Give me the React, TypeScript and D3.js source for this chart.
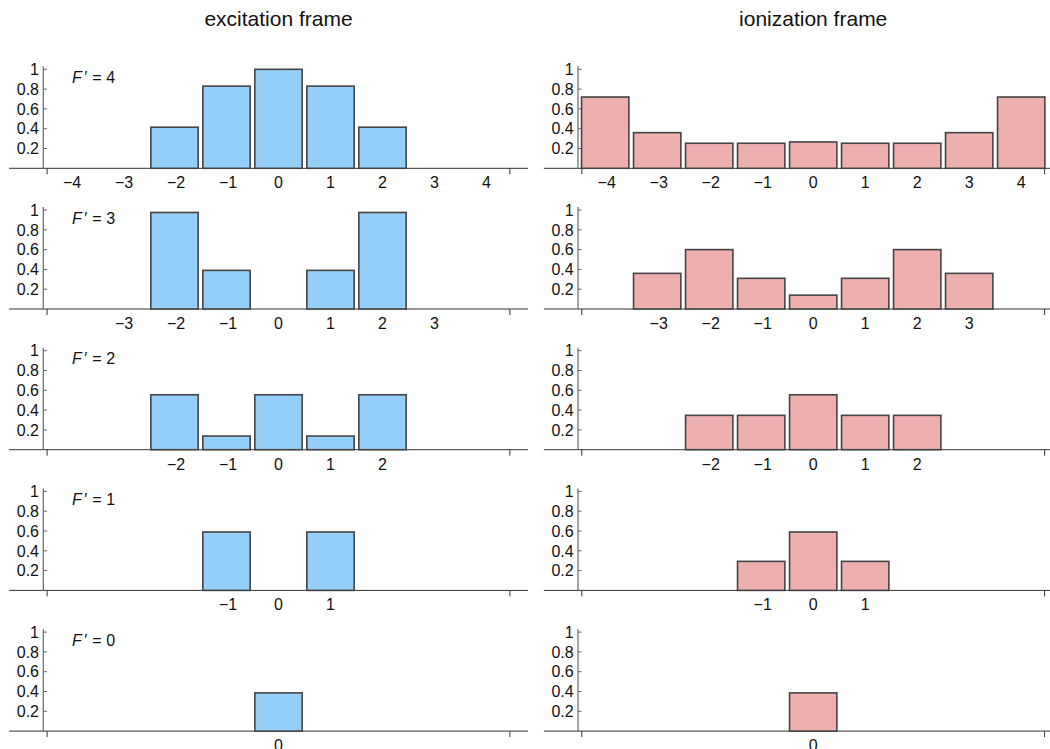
import React from "react";
import * as d3 from "d3";

// ---- data ----
const rowLabels = ["4", "3", "2", "1", "0"];
const panelTitles = ["excitation frame", "ionization frame"];

const mRow4 = [-2, -1, 0, 1, 2];
const mRow3 = [-2, -1, 0, 1, 2];
const mRow2 = [-2, -1, 0, 1, 2];
const mRow1 = [-1, 0, 1];
const mRow0 = [0];

const excitationF4 = [0.415, 0.83, 1.0, 0.83, 0.415];
const excitationF3 = [0.975, 0.39, 0, 0.39, 0.975];
const excitationF2 = [0.555, 0.138, 0.555, 0.138, 0.555];
const excitationF1 = [0.59, 0, 0.59];
const excitationF0 = [0.386];

const ionM4 = [-4, -3, -2, -1, 0, 1, 2, 3, 4];
const ionM3 = [-3, -2, -1, 0, 1, 2, 3];
const ionM2 = [-2, -1, 0, 1, 2];
const ionM1 = [-1, 0, 1];
const ionM0 = [0];

const ionizationF4 = [0.72, 0.36, 0.253, 0.253, 0.266, 0.253, 0.253, 0.36, 0.72];
const ionizationF3 = [0.36, 0.6, 0.31, 0.14, 0.31, 0.6, 0.36];
const ionizationF2 = [0.347, 0.347, 0.555, 0.347, 0.347];
const ionizationF1 = [0.293, 0.59, 0.293];
const ionizationF0 = [0.386];

const ticksF4 = [-4, -3, -2, -1, 0, 1, 2, 3, 4];
const ticksF3 = [-3, -2, -1, 0, 1, 2, 3];
const ticksF2 = [-2, -1, 0, 1, 2];
const ticksF1 = [-1, 0, 1];
const ticksF0 = [0];

const yTicks = [0.2, 0.4, 0.6, 0.8, 1];

const excitationRows = [
  { m: mRow4, v: excitationF4 },
  { m: mRow3, v: excitationF3 },
  { m: mRow2, v: excitationF2 },
  { m: mRow1, v: excitationF1 },
  { m: mRow0, v: excitationF0 },
];
const ionizationRows = [
  { m: ionM4, v: ionizationF4 },
  { m: ionM3, v: ionizationF3 },
  { m: ionM2, v: ionizationF2 },
  { m: ionM1, v: ionizationF1 },
  { m: ionM0, v: ionizationF0 },
];
const tickRows = [ticksF4, ticksF3, ticksF2, ticksF1, ticksF0];

const W = 1050;
const H = 749;
const FONT = "'Liberation Sans', Arial, Helvetica, sans-serif";

const fmt = (n: number) => (n < 0 ? "\u2212" + Math.abs(n) : String(n));

function Panel({ col, row }: { col: number; row: number }) {
  const offX = col * 534.7;
  const baseline = 168.3 + row * 140.7;
  const x = d3.scaleLinear().domain([-4.5, 4.5]).range([44.5 + offX, 512.5 + offX]);
  const y = d3.scaleLinear().domain([0, 1]).range([baseline, baseline - 99]);
  const data = col === 0 ? excitationRows[row] : ionizationRows[row];
  const fill = col === 0 ? "#94CFFA" : "#EEAFAF";
  const half = 0.455;
  const axisStart = x(-5.18);
  const axisEnd = x(4.8);
  const ticks = tickRows[row];
  return (
    <g>
      {/* x axis */}
      <line x1={axisStart} x2={axisEnd} y1={baseline} y2={baseline} stroke="#333" strokeWidth={1} />
      <line x1={x(-4.45)} x2={x(-4.45)} y1={baseline} y2={baseline + 6} stroke="#333" strokeWidth={1} />
      <line x1={x(4.45)} x2={x(4.45)} y1={baseline} y2={baseline + 6} stroke="#333" strokeWidth={1} />
      {/* y axis */}
      <line x1={x(-4.5) - 1.2} x2={x(-4.5) - 1.2} y1={baseline} y2={y(1.03)} stroke="#666" strokeWidth={1.2} />
      {yTicks.map((t) => (
        <g key={t}>
          <line x1={x(-4.5) - 1.2} x2={x(-4.5) + 2.5} y1={y(t)} y2={y(t)} stroke="#666" strokeWidth={1} />
          <text x={x(-4.5) - 5.5} y={y(t)} dy="0.36em" textAnchor="end" fontSize={16} fontFamily={FONT} fill="#111">
            {String(t)}
          </text>
        </g>
      ))}
      {/* bars */}
      {data.m.map((m, i) =>
        data.v[i] > 0 ? (
          <rect
            key={m}
            x={x(m - half)}
            y={y(data.v[i])}
            width={x(m + half) - x(m - half)}
            height={y(0) - y(data.v[i])}
            fill={fill}
            stroke="#444"
            strokeWidth={1.6}
          />
        ) : null
      )}
      {/* tick labels */}
      {ticks.map((t) => (
        <text key={t} x={x(t) + (t < 0 ? 1.5 : 0)} y={baseline + 20} textAnchor="middle" fontSize={16} fontFamily={FONT} fill="#111">
          {fmt(t)}
        </text>
      ))}
      {col === 0 ? (
        <text x={72} y={baseline - 85.5} fontSize={16} fontFamily={FONT} fill="#111">
          <tspan fontStyle="italic">F</tspan>
          <tspan dx={2.5}>{"\u2032"}</tspan>
          <tspan dx={5}>{"="}</tspan>
          <tspan dx={4.5}>{rowLabels[row]}</tspan>
        </text>
      ) : null}
    </g>
  );
}

export default function App() {
  const rows = [0, 1, 2, 3, 4];
  const x0 = d3.scaleLinear().domain([-4.5, 4.5]).range([44.5, 512.5]);
  return (
    <svg width={W} height={H} style={{ position: "absolute", left: 0, top: 0, background: "#fff" }}>
      <rect width={W} height={H} fill="#fff" />
      {panelTitles.map((t, c) => (
        <text key={t} x={x0(0) + c * 534.7} y={26} textAnchor="middle" fontSize={21} fontFamily={FONT} fill="#111">
          {t}
        </text>
      ))}
      {rows.map((r) => (
        <g key={r}>
          <Panel col={0} row={r} />
          <Panel col={1} row={r} />
        </g>
      ))}
    </svg>
  );
}
